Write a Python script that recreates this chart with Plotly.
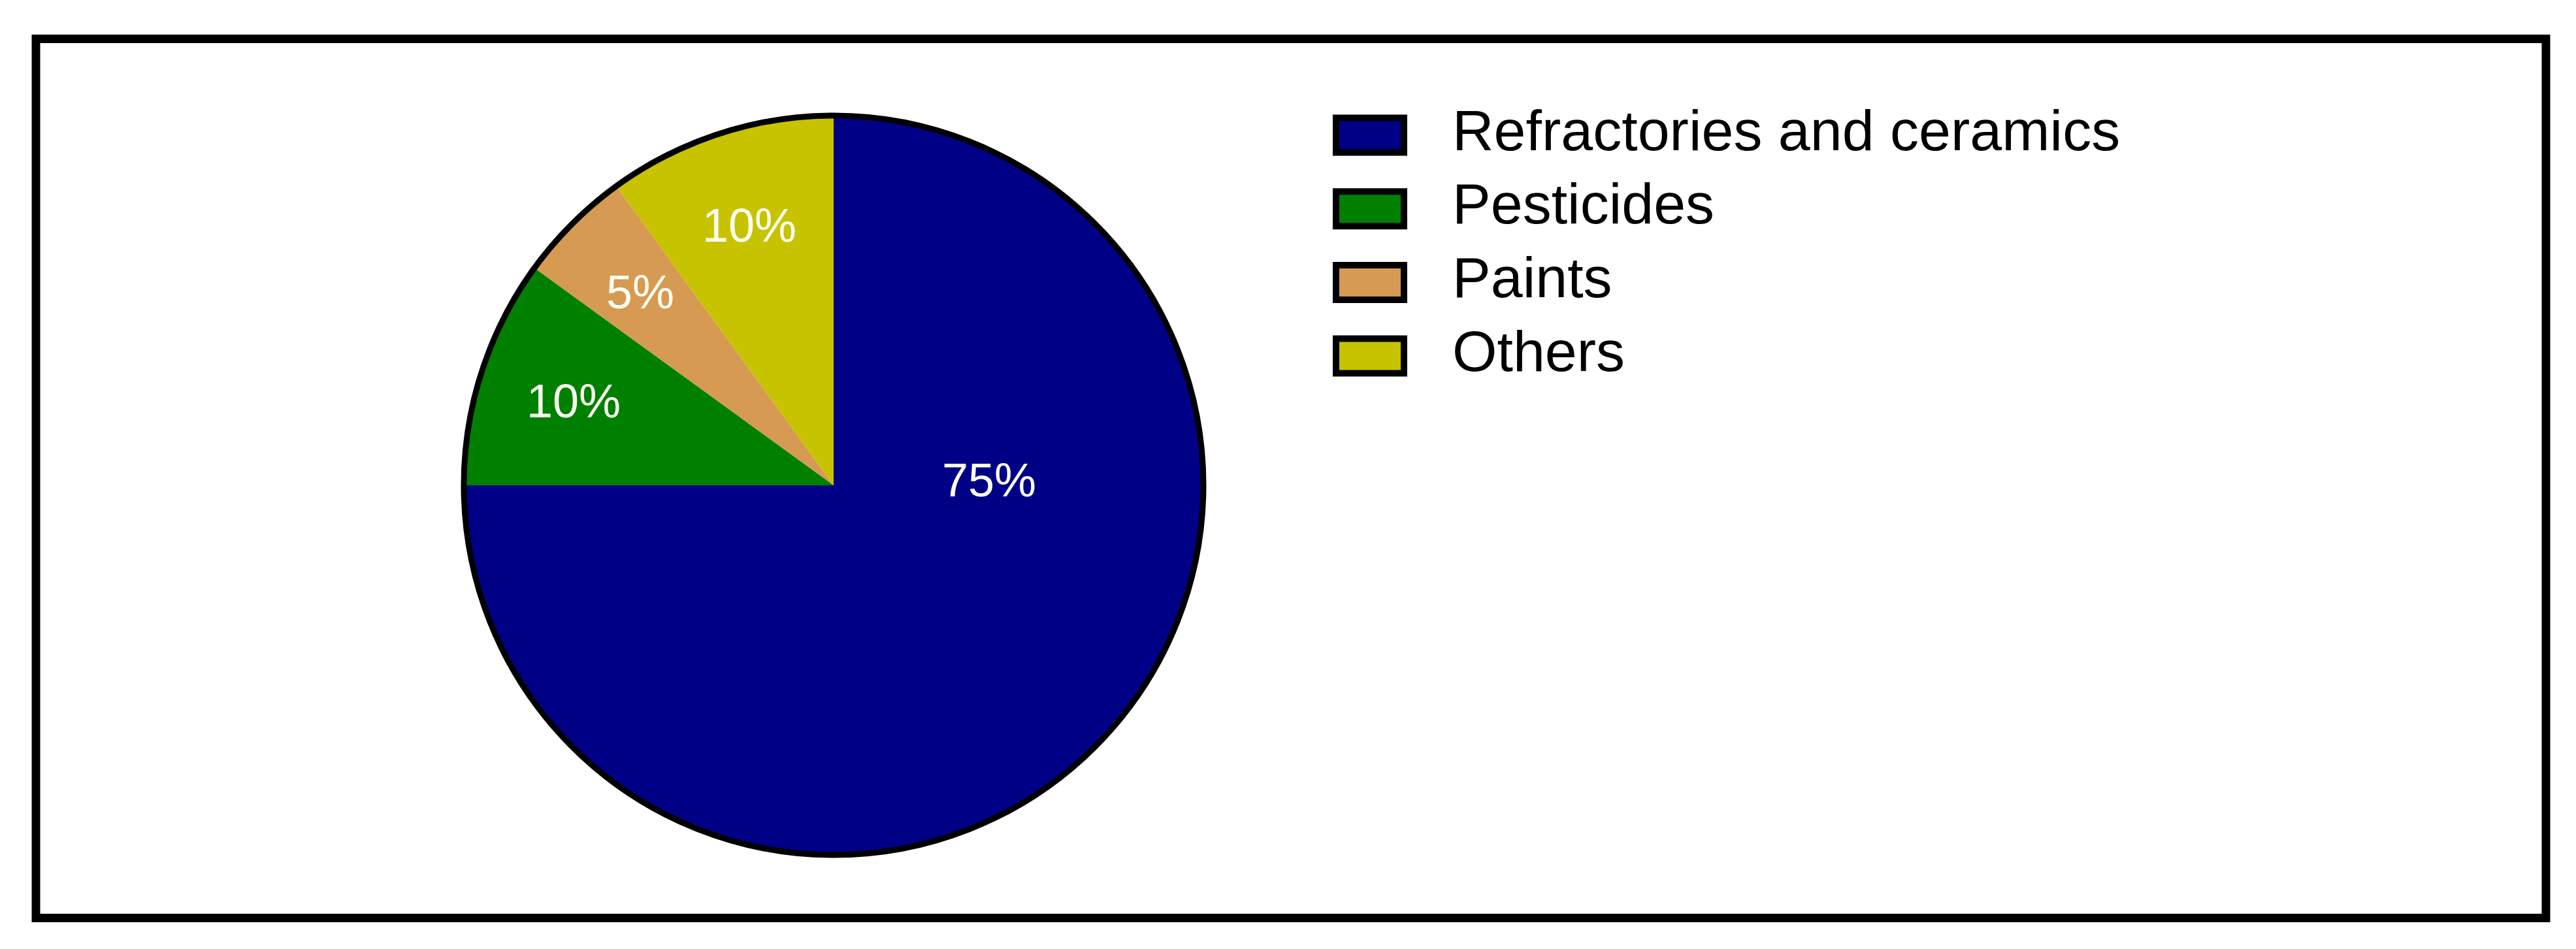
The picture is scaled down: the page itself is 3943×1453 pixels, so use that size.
import math
import plotly.graph_objects as go

categories = ["Refractories and ceramics", "Pesticides", "Paints", "Others"]
shares = [75, 10, 5, 10]
colors = ["#000086", "#008000", "#D79A52", "#C7C300"]

FONT = "Liberation Sans, Arial, sans-serif"
W, H = 3943, 1453

# pie geometry in pixels
cx, cy, R = 1268, 735, 566
pie_dom = dict(x=[(cx - R) / W, (cx + R) / W], y=[1 - (cy + R) / H, 1 - (cy - R) / H])

fig = go.Figure()
fig.add_trace(go.Pie(
    labels=categories,
    values=shares,
    textinfo="none",
    marker=dict(colors=colors, line=dict(width=0)),
    sort=False,
    direction="clockwise",
    rotation=0,
    domain=pie_dom,
    showlegend=False,
    hoverinfo="label+percent",
))
# outer black rim of the pie
fig.add_trace(go.Pie(
    values=[1],
    labels=["rim"],
    textinfo="none",
    marker=dict(colors=["rgba(0,0,0,0)"], line=dict(color="black", width=9)),
    domain=pie_dom,
    showlegend=False,
    hoverinfo="skip",
))

# percentage labels, placed at the middle angle of each slice
total = sum(shares)
start = 0.0
for i, v in enumerate(shares):
    mid = (start + v / 2) / total * 360
    start += v
    if i == 0:
        ang, rr = 88, 0.42   # the big slice has its label just right of centre
    else:
        ang, rr = mid, 0.74
    px = cx + rr * R * math.sin(math.radians(ang))
    py = cy - rr * R * math.cos(math.radians(ang))
    fig.add_annotation(
        x=px / W, y=1 - py / H, xref="paper", yref="paper",
        xanchor="center", yanchor="middle",
        text=f"{v}%", showarrow=False,
        font=dict(family=FONT, size=72, color="#FFFFF2"),
    )

# legend with big outlined swatches
row0, step = 199, 112.7
for i, (name, col) in enumerate(zip(categories, colors)):
    yc = row0 + i * step
    fig.add_shape(
        type="rect", xref="paper", yref="paper",
        x0=2037 / W, x1=2141 / W,
        y0=1 - (yc - 26.5) / H, y1=1 - (yc + 26.5) / H,
        fillcolor=col, line=dict(color="black", width=10),
    )
    fig.add_annotation(
        x=2213 / W, y=1 - (yc - 8) / H, xref="paper", yref="paper",
        xanchor="left", yanchor="middle", text=name, showarrow=False,
        font=dict(family=FONT, size=88, color="black"),
    )

# frame around the whole figure
fig.add_shape(
    type="rect", xref="paper", yref="paper",
    x0=47 / W, x1=3889 / W, y0=1 - 1397.5 / H, y1=1 - 51.5 / H,
    line=dict(color="black", width=13),
)

fig.update_layout(
    width=W, height=H,
    margin=dict(l=0, r=0, t=0, b=0),
    paper_bgcolor="white",
    plot_bgcolor="white",
)

fig.write_html("out.html")
